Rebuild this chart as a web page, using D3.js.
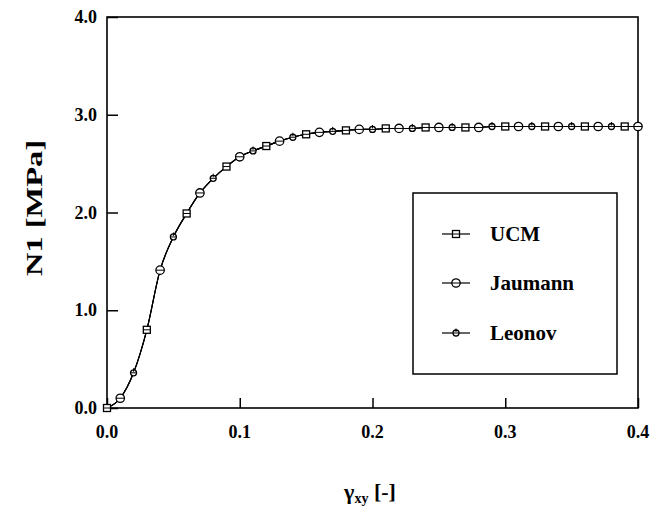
<!DOCTYPE html>
<html><head><meta charset="utf-8">
<script src="https://cdn.jsdelivr.net/npm/d3@7"></script>
<style>body{margin:0;background:#fff}svg{display:block}text{font-family:"Liberation Serif","DejaVu Serif",serif;font-weight:bold;fill:#000}</style>
</head><body><svg id="c" width="651" height="507"></svg>
<script>
const strain = d3.range(0, 41).map(i => i / 100);
const ucm     = [0,0.10,0.36,0.80,1.41,1.75,1.99,2.20,2.35,2.47,2.57,2.63,2.68,2.73,2.77,2.80,2.82,2.83,2.84,2.85,2.85,2.86,2.86,2.86,2.87,2.87,2.87,2.87,2.87,2.88,2.88,2.88,2.88,2.88,2.88,2.88,2.88,2.88,2.88,2.88,2.88];
const jaumann = ucm.slice();
const leonov  = ucm.slice();
const seriesNames = ["UCM", "Jaumann", "Leonov"];
const xTicks = [0, 0.1, 0.2, 0.3, 0.4];
const yTicks = [0, 1, 2, 3, 4];

const svg = d3.select("#c");
const L = 107, R = 638, T = 17, B = 408;
const x = d3.scaleLinear().domain([0, 0.4]).range([L, R]);
const y = d3.scaleLinear().domain([0, 4]).range([B, T]);

svg.append("rect").attr("x", L).attr("y", T).attr("width", R - L).attr("height", B - T)
  .attr("fill", "none").attr("stroke", "#000").attr("stroke-width", 1.6);

const gx = svg.append("g").attr("transform", `translate(0,${B})`)
  .call(d3.axisTop(x).tickValues(xTicks).tickSize(10).tickFormat(""));
const gy = svg.append("g").attr("transform", `translate(${L},0)`)
  .call(d3.axisRight(y).tickValues(yTicks).tickSize(11).tickFormat(""));
[gx, gy].forEach(g => { g.select(".domain").remove(); g.selectAll("line").attr("stroke", "#000").attr("stroke-width", 1.5); });

svg.append("g").selectAll("text").data(xTicks).join("text")
  .attr("x", d => x(d)).attr("y", 438).attr("text-anchor", "middle")
  .attr("font-size", 18).text(d => d.toFixed(1));
svg.append("g").selectAll("text").data(yTicks).join("text")
  .attr("x", 97).attr("y", d => y(d) + 6).attr("text-anchor", "end")
  .attr("font-size", 18).text(d => d.toFixed(1));

svg.append("text").attr("transform", "translate(42,208) rotate(-90)")
  .attr("text-anchor", "middle").attr("font-size", 23)
  .attr("textLength", 136).attr("lengthAdjust", "spacingAndGlyphs").text("N1 [MPa]");
const xt = svg.append("text").attr("x", 370).attr("y", 499).attr("text-anchor", "middle").attr("font-size", 22);
xt.append("tspan").text("γ");
xt.append("tspan").attr("font-size", 14).attr("dy", 4).text("xy");
xt.append("tspan").attr("dy", -4).text(" [-]");

const line = d3.line().x((d, i) => x(strain[i])).y(d => y(d)).curve(d3.curveMonotoneX);
[ucm, jaumann, leonov].forEach(s => {
  svg.append("path").attr("d", line(s)).attr("fill", "none").attr("stroke", "#000").attr("stroke-width", 1.1);
});

function drawMarker(g, type) {
  if (type === 0) {
    g.append("rect").attr("x", -3.5).attr("y", -3.5).attr("width", 7).attr("height", 7)
      .attr("fill", "#fff").attr("stroke", "#000").attr("stroke-width", 1.3);
    g.append("line").attr("x1", -3.5).attr("x2", 3.5).attr("stroke", "#000").attr("stroke-width", 1);
  } else if (type === 1) {
    g.append("circle").attr("r", 4.2).attr("fill", "#fff").attr("stroke", "#000").attr("stroke-width", 1.3);
    g.append("line").attr("x1", -4.2).attr("x2", 4.2).attr("stroke", "#000").attr("stroke-width", 1);
  } else {
    g.append("circle").attr("r", 3).attr("fill", "#fff").attr("stroke", "#000").attr("stroke-width", 1.3);
    g.append("line").attr("x1", -3).attr("x2", 3).attr("stroke", "#000").attr("stroke-width", 1);
    g.append("line").attr("y1", -4.5).attr("y2", -1).attr("stroke", "#000").attr("stroke-width", 1);
  }
}

[ucm, jaumann, leonov].forEach((s, k) => {
  s.forEach((v, i) => {
    if (i % 3 !== k) return;
    drawMarker(svg.append("g").attr("transform", `translate(${x(strain[i])},${y(v)})`), k);
  });
});

svg.append("rect").attr("x", 413).attr("y", 193).attr("width", 204).attr("height", 181)
  .attr("fill", "#fff").attr("stroke", "#000").attr("stroke-width", 1.5);
const ly = [234, 283, 333];
seriesNames.forEach((n, k) => {
  svg.append("line").attr("x1", 442).attr("x2", 470).attr("y1", ly[k]).attr("y2", ly[k])
    .attr("stroke", "#000").attr("stroke-width", 1.2);
  drawMarker(svg.append("g").attr("transform", `translate(456,${ly[k]})`), k);
  svg.append("text").attr("x", 490).attr("y", ly[k] + 7).attr("font-size", 21).text(n);
});
</script></body></html>
